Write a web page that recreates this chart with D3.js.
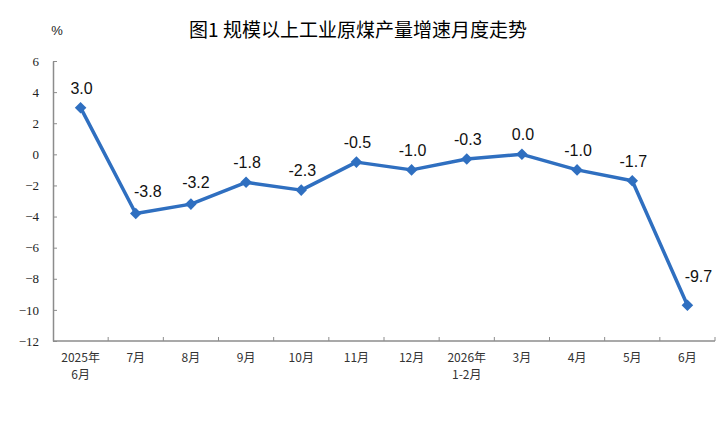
<!DOCTYPE html>
<html>
<head>
<meta charset="utf-8">
<script src="https://cdn.jsdelivr.net/npm/d3@7"></script>
<style>
	body { margin: 0; background: #fff; }
	svg { display: block; }
</style>
</head>
<body>
<script>
'use strict';

// Chart data.
const monthLabels = [
	["2025年", "6月"], ["7月"], ["8月"], ["9月"], ["10月"], ["11月"],
	["12月"], ["2026年", "1-2月"], ["3月"], ["4月"], ["5月"], ["6月"]
];
const growthValues = [3.0, -3.8, -3.2, -1.8, -2.3, -0.5, -1.0, -0.3, 0.0, -1.0, -1.7, -9.7];
const yTicks = [6, 4, 2, 0, -2, -4, -6, -8, -10, -12];
const chartTitle = "图1  规模以上工业原煤产量增速月度走势";

const width = 720, height = 430;
const margin = { top: 61, right: 5, bottom: 89, left: 53 };
const lineColor = "#2f6fc0";
const axisColor = "#8c8c8c";

let svg = d3.select("body").append("svg")
	.attr("width", width)
	.attr("height", height);

// Scales
let x = d3.scaleBand()
	.domain(d3.range(monthLabels.length))
	.range([margin.left, width - margin.right]);

let y = d3.scaleLinear()
	.domain([-12, 6])
	.range([height - margin.bottom, margin.top]);

// Title and unit
svg.append("text")
	.attr("x", 358)
	.attr("y", 37)
	.attr("text-anchor", "middle")
	.attr("font-family", "'Noto Sans CJK SC', sans-serif")
	.attr("font-size", 19)
	.attr("font-weight", 400)
	.attr("fill", "#000")
	.text(chartTitle);

svg.append("text")
	.attr("x", 57)
	.attr("y", 35)
	.attr("text-anchor", "middle")
	.attr("font-family", "'Liberation Sans', Arial, sans-serif")
	.attr("font-size", 13)
	.attr("fill", "#222")
	.text("%");

// Y axis, ticks drawn inward
let yAxis = svg.append("g")
	.attr("transform", "translate(" + margin.left + ",0)")
	.call(d3.axisLeft(y).tickValues(yTicks).tickSize(-4).tickPadding(14).tickSizeOuter(0));
yAxis.select(".domain").attr("stroke", axisColor).attr("stroke-width", 1.5);
yAxis.selectAll(".tick line").attr("stroke", axisColor);
yAxis.selectAll(".tick text")
	.attr("font-family", "'Liberation Serif', 'Times New Roman', serif")
	.attr("font-size", 13)
	.attr("fill", "#222");

// X axis: ticks on band boundaries, pointing up
let xAxisG = svg.append("g")
	.attr("transform", "translate(0," + y(-12) + ")");
xAxisG.append("line")
	.attr("x1", x.range()[0]).attr("x2", x.range()[1])
	.attr("stroke", axisColor).attr("stroke-width", 1.5);
xAxisG.selectAll("line.tick")
	.data(d3.range(1, monthLabels.length + 1))
	.enter()
	.append("line")
	.attr("class", "tick")
	.attr("x1", d => x(0) + d * x.bandwidth())
	.attr("x2", d => x(0) + d * x.bandwidth())
	.attr("y1", 0).attr("y2", -4)
	.attr("stroke", axisColor);

let xLabels = xAxisG.selectAll("text")
	.data(monthLabels)
	.enter()
	.append("text")
	.attr("x", (d, i) => x(i) + x.bandwidth() / 2)
	.attr("y", 21)
	.attr("text-anchor", "middle")
	.attr("font-family", "'Noto Sans CJK SC', sans-serif")
	.attr("font-size", 12)
	.attr("fill", "#333");
xLabels.selectAll("tspan")
	.data(d => d)
	.enter()
	.append("tspan")
	.attr("x", function() { return d3.select(this.parentNode).attr("x"); })
	.attr("dy", (d, i) => i === 0 ? 0 : 17)
	.text(d => d);

// Line
let px = (d, i) => x(i) + x.bandwidth() / 2;
let line = d3.line()
	.x(px)
	.y(d => y(d));

svg.append("path")
	.datum(growthValues)
	.attr("d", line)
	.attr("fill", "none")
	.attr("stroke", lineColor)
	.attr("stroke-width", 3.5)
	.attr("stroke-linejoin", "round");

// Diamond markers
svg.selectAll("path.marker")
	.data(growthValues)
	.enter()
	.append("path")
	.attr("class", "marker")
	.attr("d", d3.symbol().type(d3.symbolDiamond2).size(85))
	.attr("transform", (d, i) => "translate(" + px(d, i) + "," + y(d) + ")")
	.attr("fill", lineColor);

// Value labels. Labels next to steep segments are nudged right
// so the line does not run through them.
let lastIndex = growthValues.length - 1;
function labelDx(i)
{
	if (i === lastIndex) return 11;
	if (i === 1) return 12;
	if (i === 2) return 5;
	return 1;
}
function labelDy(i)
{
	if (i === lastIndex) return 23;
	if (i === 1 || i === 2) return 16;
	return 14;
}
svg.selectAll("text.value")
	.data(growthValues)
	.enter()
	.append("text")
	.attr("class", "value")
	.attr("x", (d, i) => px(d, i) + labelDx(i))
	.attr("y", (d, i) => y(d) - labelDy(i))
	.attr("text-anchor", "middle")
	.attr("font-family", "'Liberation Sans', Arial, sans-serif")
	.attr("font-size", 16)
	.attr("fill", "#111")
	.text(d => d.toFixed(1));
</script>
</body>
</html>
